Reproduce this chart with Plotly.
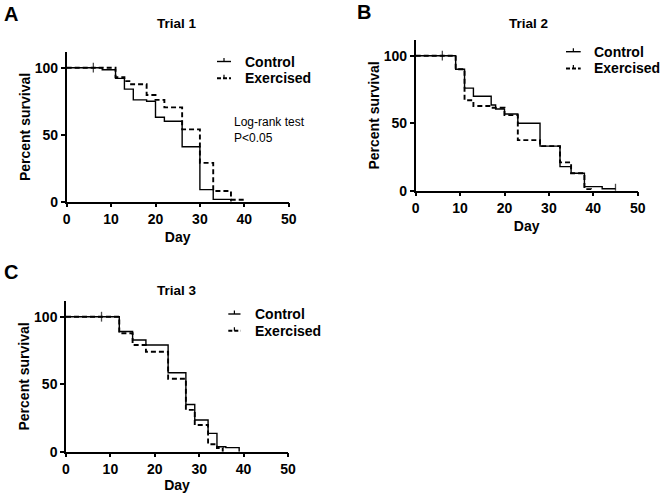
import plotly.graph_objects as go

# ---------------- data ----------------
t1_ctrl_day = [0, 8, 11, 13, 15, 18, 20, 22, 26, 30, 33, 37]
t1_ctrl_surv = [100, 98.5, 92, 84, 76, 75, 63, 60, 41, 9, 1.7, 0]
t1_ctrl_cens = [6]
t1_exer_day = [0, 11, 13, 14.5, 18, 20, 22, 26, 30, 33, 37, 40]
t1_exer_surv = [100, 93, 90, 87.6, 79.6, 76, 70.4, 54, 29, 8, 1.5, 0]
t1_exer_cens = []

t2_ctrl_day = [0, 9, 11, 13, 17, 18, 20, 23, 28, 32.5, 35, 38, 42]
t2_ctrl_surv = [100, 90, 76, 70, 63.5, 60.5, 56.8, 50, 33, 17.8, 12.9, 3, 1.5]
t2_ctrl_cens = [6, 45]
t2_exer_day = [0, 9, 11, 13, 17, 20, 23, 28, 32.5, 35, 38, 39.5]
t2_exer_surv = [100, 90, 67, 62.7, 61.5, 56, 37.5, 33, 21, 12.9, 1.2, 0]
t2_exer_cens = []

t3_ctrl_day = [0, 12, 15, 18, 23, 27, 29, 32, 34, 36, 39]
t3_ctrl_surv = [100, 89, 82.7, 79, 58.5, 35, 23.5, 13.6, 3.7, 3, 0]
t3_ctrl_cens = [8]
t3_exer_day = [0, 12, 15, 18, 23, 27, 29, 32, 34, 35.3]
t3_exer_surv = [100, 87.7, 79, 74, 54, 31, 19.8, 5.5, 2.7, 0]
t3_exer_cens = []

series_names = ["Control", "Exercised"]
trial_titles = ["Trial 1", "Trial 2", "Trial 3"]
panel_letters = ["A", "B", "C"]
x_ticks = [0, 10, 20, 30, 40, 50]
y_ticks = [0, 50, 100]
logrank_text = "Log-rank test<br>P<0.05"

# ---------------- helpers ----------------
W, H = 660, 493
FONT = "Arial, Liberation Sans, sans-serif"
INK = "black"


def px_x(p):
    return p / W


def px_y(p):
    return 1 - p / H


def merge_censored(days, surv, cens):
    pts = [(d, s, False) for d, s in zip(days, surv)]
    for c in cens:
        s_at = surv[0]
        for d, s in zip(days, surv):
            if d <= c:
                s_at = s
        pts.append((c, s_at, True))
    pts.sort(key=lambda p: (p[0], not p[2]))
    return [p[0] for p in pts], [p[1] for p in pts], [p[2] for p in pts]


fig = go.Figure()

trials = [
    [(t1_ctrl_day, t1_ctrl_surv, t1_ctrl_cens), (t1_exer_day, t1_exer_surv, t1_exer_cens)],
    [(t2_ctrl_day, t2_ctrl_surv, t2_ctrl_cens), (t2_exer_day, t2_exer_surv, t2_exer_cens)],
    [(t3_ctrl_day, t3_ctrl_surv, t3_ctrl_cens), (t3_exer_day, t3_exer_surv, t3_exer_cens)],
]

styles = [dict(color=INK, width=1.4, dash="solid"),
          dict(color=INK, width=1.9, dash="5px,3px")]
legend_dash = ["solid", "4px,2px"]

# panel geometry in pixels: left, bottom, pixels per percent
panels = [
    dict(left=66.7, bottom=201.7, ppu=1.34),
    dict(left=415.7, bottom=190.7, ppu=1.35),
    dict(left=66.0, bottom=451.7, ppu=1.35),
]
PLOT_W = 222
YMAX = 111.5

for i, trial in enumerate(trials):
    ax = "" if i == 0 else str(i + 1)
    for j, (d, s, c) in enumerate(trial):
        xs, ys, flags = merge_censored(d, s, c)
        fig.add_trace(go.Scatter(
            x=xs, y=ys, mode="lines+markers", line_shape="hv",
            name=series_names[j], line=styles[j], showlegend=False,
            marker=dict(symbol="line-ns", size=[7 if f else 0 for f in flags],
                        line=dict(color=INK, width=1.3), color=INK),
            xaxis="x" + ax, yaxis="y" + ax, hoverinfo="skip",
        ))

layout = dict(
    width=W, height=H, margin=dict(l=0, r=0, t=0, b=0, autoexpand=False),
    paper_bgcolor="white", plot_bgcolor="white",
    font=dict(family=FONT, color=INK),
    showlegend=False,
)

annotations = []
shapes = []
# legend: (line start x, line end x, text x, first row y)
legend_geo = [(217, 231, 242.7, 61.5), (566, 580.7, 591.7, 51.7), (228.3, 240.5, 252.7, 314)]
ROW = 16.8
title_pos = [(177, 23), (528, 23), (177, 290)]
letter_pos = [(11, 14), (364, 12), (11, 272)]

for i, p in enumerate(panels):
    ax = "" if i == 0 else str(i + 1)
    top = p["bottom"] - YMAX * p["ppu"]
    layout["xaxis" + ax] = dict(
        domain=[px_x(p["left"]), px_x(p["left"] + PLOT_W)],
        anchor="y" + ax, range=[0, 50], tickvals=x_ticks,
        showline=True, linecolor=INK, linewidth=1.5,
        ticks="outside", ticklen=4, tickwidth=1.5, tickcolor=INK,
        showgrid=False, zeroline=False, automargin=False,
        tickfont=dict(size=14, family=FONT, weight="bold", color=INK),
        title=dict(text="<b>Day</b>", font=dict(size=14, family=FONT, color=INK), standoff=6),
    )
    layout["yaxis" + ax] = dict(
        domain=[px_y(p["bottom"]), px_y(top)],
        anchor="x" + ax, range=[0, YMAX], tickvals=y_ticks,
        showline=True, linecolor=INK, linewidth=1.5,
        ticks="outside", ticklen=4, tickwidth=1.5, tickcolor=INK,
        showgrid=False, zeroline=False, automargin=False,
        tickfont=dict(size=14, family=FONT, weight="bold", color=INK),
        title=dict(text="<b>Percent survival</b>", font=dict(size=14, family=FONT, color=INK), standoff=1),
    )
    # manual legend
    x0, x1, tx, y0 = legend_geo[i]
    for j, name in enumerate(series_names):
        yy = y0 + j * ROW
        shapes.append(dict(type="line", xref="paper", yref="paper",
                           x0=px_x(x0), x1=px_x(x1), y0=px_y(yy), y1=px_y(yy),
                           line=dict(color=INK, width=styles[j]["width"], dash=legend_dash[j])))
        xm = (x0 + x1) / 2
        shapes.append(dict(type="line", xref="paper", yref="paper",
                           x0=px_x(xm), x1=px_x(xm), y0=px_y(yy), y1=px_y(yy - 3.5),
                           line=dict(color=INK, width=1.2)))
        annotations.append(dict(
            text="<b>" + name + "</b>", x=px_x(tx), y=px_y(yy),
            xref="paper", yref="paper", showarrow=False,
            xanchor="left", yanchor="middle", font=dict(size=14, family=FONT, color=INK),
        ))
    tx2, ty2 = title_pos[i]
    annotations.append(dict(
        text="<b>" + trial_titles[i] + "</b>", x=px_x(tx2), y=px_y(ty2),
        xref="paper", yref="paper", showarrow=False,
        xanchor="center", yanchor="middle", font=dict(size=13.5, family=FONT, color=INK),
    ))
    lx2, ly2 = letter_pos[i]
    annotations.append(dict(
        text="<b>" + panel_letters[i] + "</b>", x=px_x(lx2), y=px_y(ly2),
        xref="paper", yref="paper", showarrow=False,
        xanchor="center", yanchor="middle", font=dict(size=20, family=FONT, color=INK),
    ))

annotations.append(dict(
    text=logrank_text, x=px_x(232), y=px_y(129.5), xref="paper", yref="paper",
    showarrow=False, xanchor="left", yanchor="middle", align="left",
    font=dict(size=12, family=FONT, color=INK),
))
layout["annotations"] = annotations
layout["shapes"] = shapes

fig.update_layout(**layout)
fig.write_html("out.html", config={"displayModeBar": False},
               post_script="document.body.style.margin='0';document.body.style.overflow='hidden';")
